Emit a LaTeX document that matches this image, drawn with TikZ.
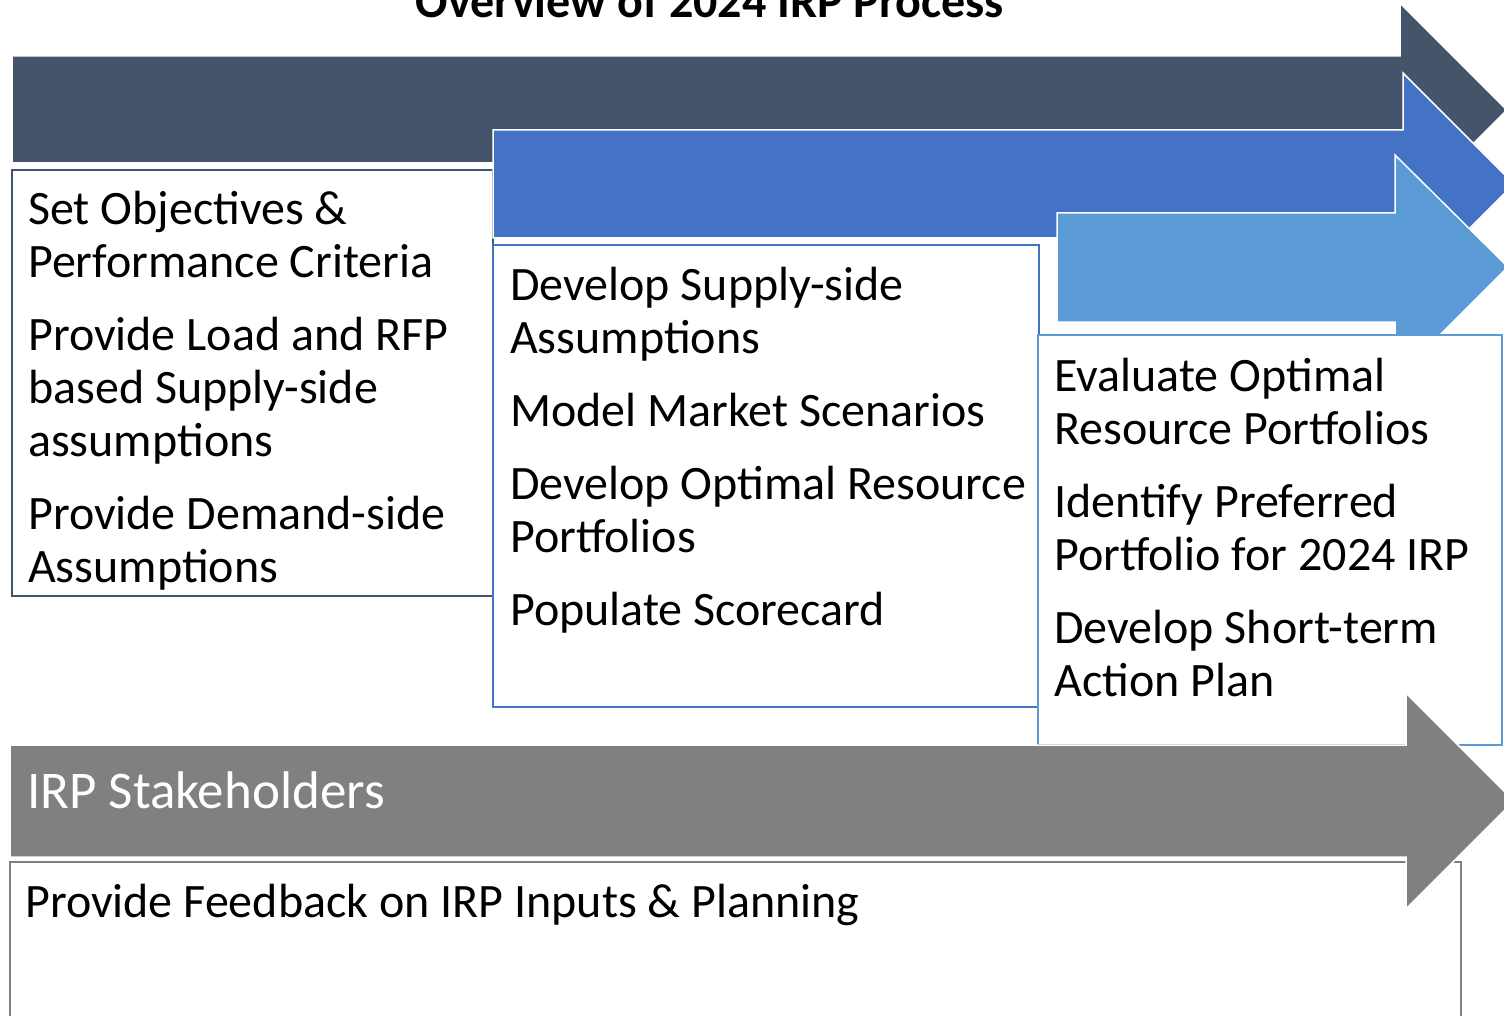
\documentclass[tikz,border=0pt]{standalone}
\usepackage{fontspec}
\setmainfont{Carlito}
\usepackage{tikz}
\definecolor{slate}{HTML}{44546A}
\definecolor{azure}{HTML}{4472C4}
\definecolor{sky}{HTML}{5B9BD5}
\definecolor{stone}{HTML}{808080}
\tikzset{
  procarrow/.style={draw=white, line width=1.5pt, line join=miter},
  stepbox/.style={fill=white, line width=2pt},
  steptext/.style={anchor=base west, align=left, inner sep=0pt, font=\fontsize{48}{53}\selectfont},
}
\begin{document}
\begin{tikzpicture}[x=1pt,y=-1pt]
\useasboundingbox (0,0) rectangle (1504,1016);
%Заголовок
\node (title) [anchor=base, font=\fontsize{48}{53}\selectfont\bfseries] at (710,18) {Overview of 2024 IRP Process};
%Первый этап
\filldraw[procarrow, fill=slate] (12,56) -- (1400,56) -- (1400,3) -- (1507,110) -- (1400,217) -- (1400,163) -- (12,163) -- cycle;
\filldraw[stepbox, draw=slate] (12,170) rectangle (493,596);
%Второй этап
\filldraw[procarrow, fill=azure] (493,130) -- (1403,130) -- (1403,73) -- (1514,184) -- (1403,295) -- (1403,238) -- (493,238) -- cycle;
\filldraw[stepbox, draw=azure] (493,245) rectangle (1039,707);
%Третий этап
\filldraw[procarrow, fill=sky] (1057,213) -- (1395,213) -- (1395,155) -- (1508,267) -- (1395,380) -- (1395,322) -- (1057,322) -- cycle;
\filldraw[stepbox, draw=sky] (1038,335) rectangle (1502,745);
%Участники
\filldraw[stepbox, draw=stone] (10,862) rectangle (1461,1030);
\filldraw[procarrow, fill=stone] (10,745) -- (1406,745) -- (1406,693) -- (1514,801) -- (1406,909) -- (1406,857) -- (10,857) -- cycle;
%Тексты (привязка к базовой линии последней строки)
\node (objectives) [steptext] at (28,582) {Set Objectives \&\\Performance Criteria\\[20pt]Provide Load and RFP\\based Supply-side\\assumptions\\[20pt]Provide Demand-side\\Assumptions};
\node (supply) [steptext] at (510,625) {Develop Supply-side\\Assumptions\\[20pt]Model Market Scenarios\\[20pt]Develop Optimal Resource\\Portfolios\\[20pt]Populate Scorecard};
\node (evaluate) [steptext] at (1054,696) {Evaluate Optimal\\Resource Portfolios\\[20pt]Identify Preferred\\Portfolio for 2024 IRP\\[20pt]Develop Short-term\\Action Plan};
\node (stakeholders) [steptext, font=\fontsize{53}{60}\selectfont, text=white] at (27,808) {IRP Stakeholders};
\node (feedback) [steptext] at (25,917) {Provide Feedback on IRP Inputs \& Planning};
\end{tikzpicture}
\end{document}
